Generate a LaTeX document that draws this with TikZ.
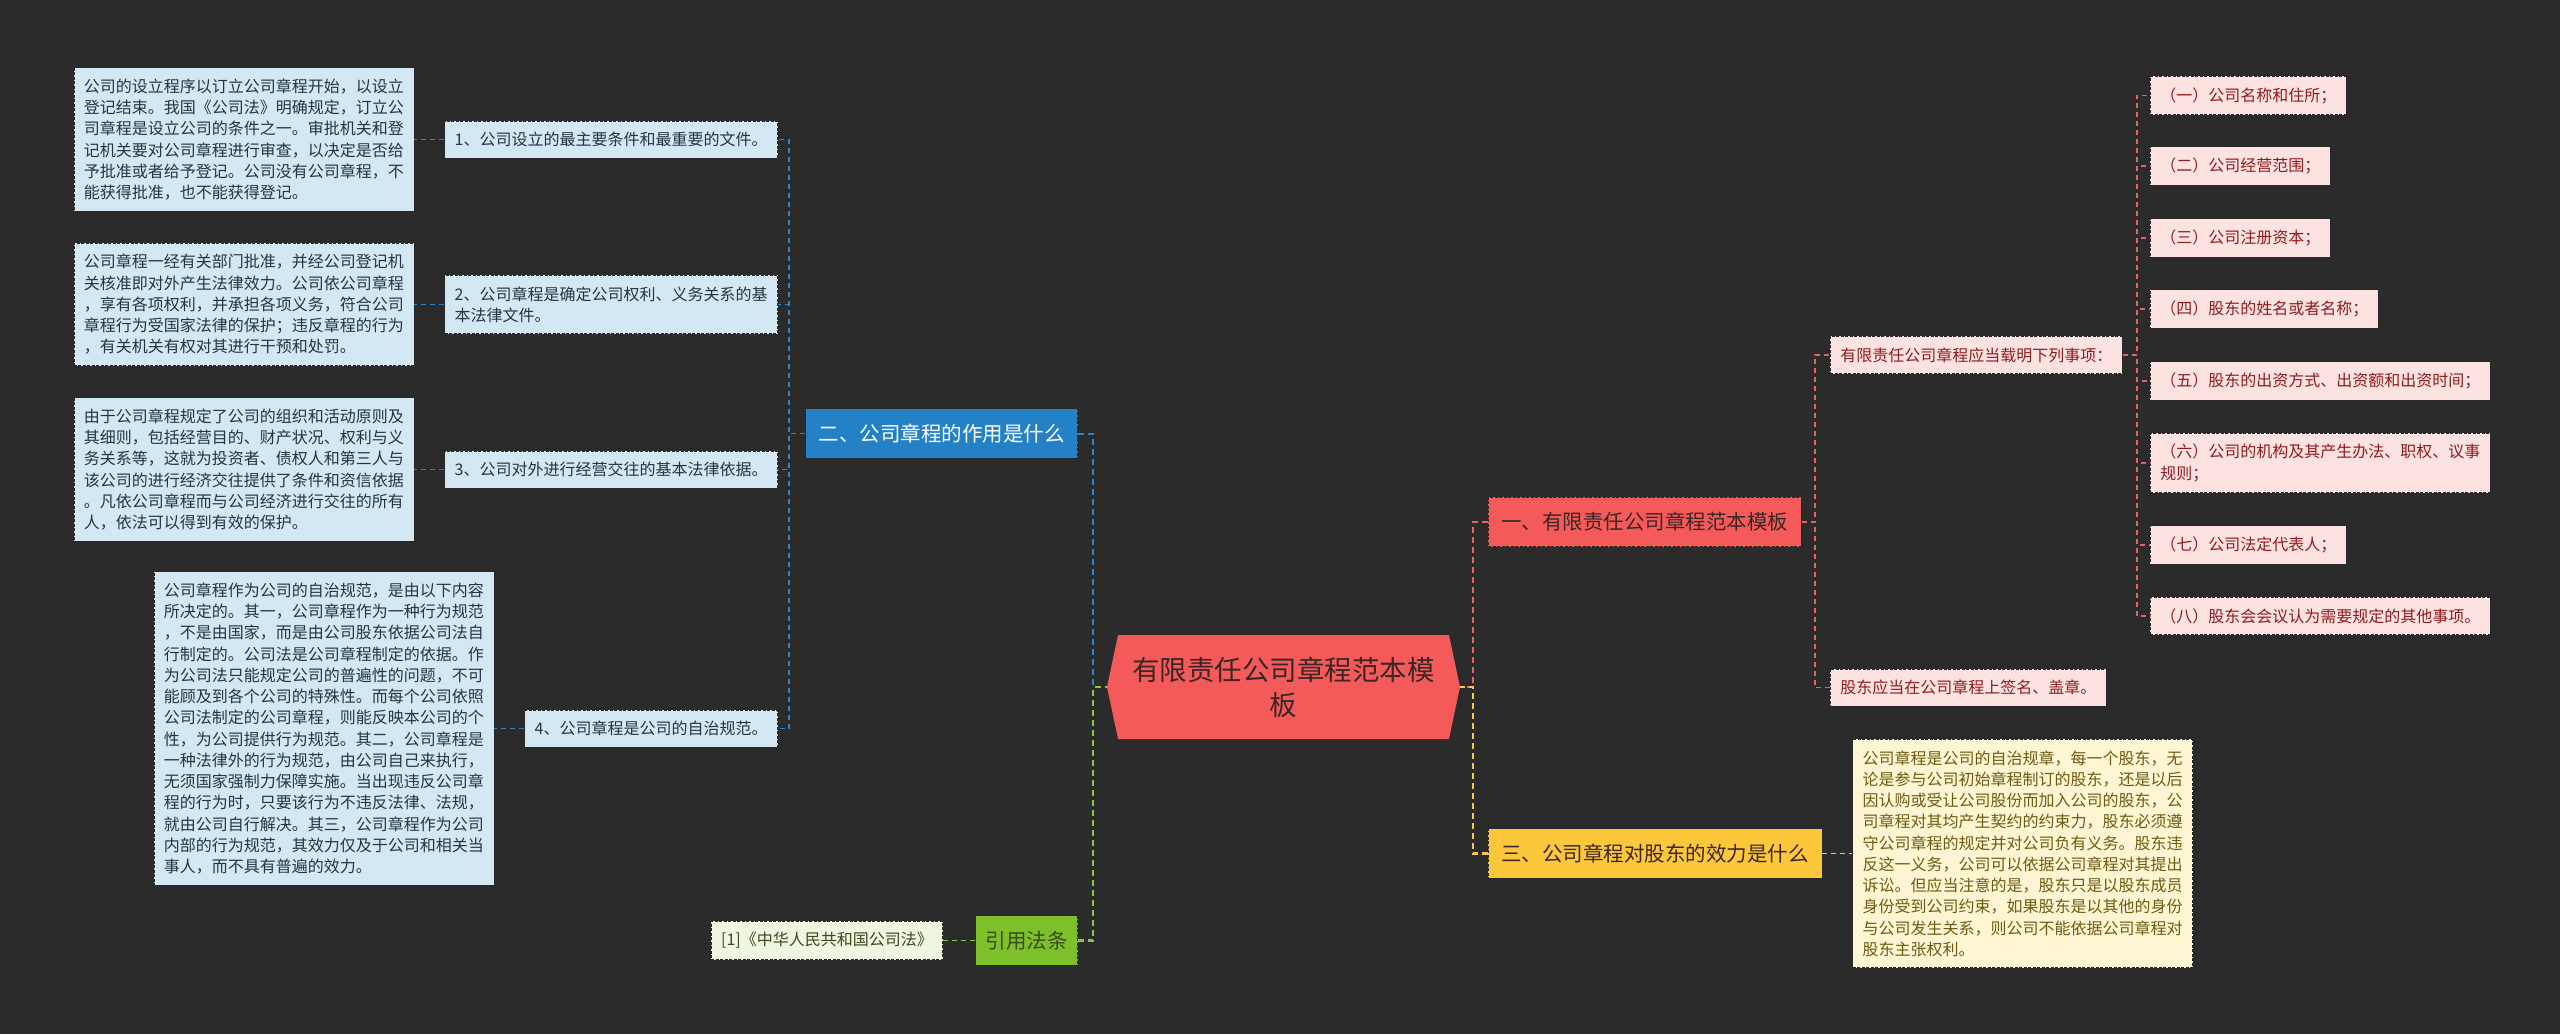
\documentclass[tikz,border=0pt]{standalone}
\usepackage{fontspec}
\setmainfont{Noto Sans CJK SC}
\usepackage{tikz}
\usetikzlibrary{positioning,shapes.symbols}

\definecolor{darkBg}{HTML}{2B2B2B}
\definecolor{boxEdge}{HTML}{262626}
\definecolor{rootRed}{HTML}{F55A5A}
\definecolor{rootText}{HTML}{3A2626}
\definecolor{headBlue}{HTML}{2481C6}
\definecolor{headYellow}{HTML}{FDC73C}
\definecolor{headGreen}{HTML}{7DC02A}
\definecolor{paleBlue}{HTML}{D4E8F4}
\definecolor{palePink}{HTML}{FDE2E2}
\definecolor{paleCream}{HTML}{FEF6D3}
\definecolor{paleGreen}{HTML}{EEF5E0}
\definecolor{blueText}{HTML}{253444}
\definecolor{pinkText}{HTML}{8E1C1C}
\definecolor{creamText}{HTML}{6F5A12}
\definecolor{greenText}{HTML}{3A4A1C}
\definecolor{blueLine}{HTML}{2A86C8}
\definecolor{redLine}{HTML}{E26464}
\definecolor{yellowLine}{HTML}{F7C845}
\definecolor{greenLine}{HTML}{8CC63E}

\begin{document}
\begin{tikzpicture}[x=1pt,y=-1pt,
	boxBase/.style={draw=boxEdge,line width=0.8pt,dash pattern=on 3pt off 1.5pt},
	leafBox/.style={boxBase,inner xsep=10pt,inner ysep=11pt,align=left,
		font=\fontsize{16}{21.25}\selectfont},
	headBox/.style={boxBase,inner xsep=13pt,minimum height=49.5pt,
		font=\fontsize{20.5}{24}\selectfont},
	linkBase/.style={line width=1.5pt,dash pattern=on 5pt off 4pt},
	blueLink/.style={linkBase,draw=blueLine},
	redLink/.style={linkBase,draw=redLine},
	yellowLink/.style={linkBase,draw=yellowLine},
	greenLink/.style={linkBase,draw=greenLine},
	rootLink/.style={line width=2.5pt,dash pattern=on 6pt off 4pt}]

	\useasboundingbox (0,0) rectangle (2560,1034);
	\fill[darkBg] (0,0) rectangle (2560,1034);

	% root
	\node[signal,signal to=east and west,signal pointer angle=156,fill=rootRed,
		minimum width=353pt,minimum height=104pt,inner sep=0pt,align=center,
		text=rootText,font=\fontsize{27.5}{35}\selectfont]
		(root) at (1283.5,687) {有限责任公司章程范本模\\板};
	\coordinate (left_joint) at (1093,687);
	\coordinate (right_joint) at (1473,687);

	% heads
	\node[headBox,fill=headBlue,text=white,anchor=east] (head_two) at (1078,433.5)
		{二、公司章程的作用是什么};
	\node[headBox,fill=headGreen,text=greenText,anchor=east,inner xsep=10pt] (law_head)
		at (1078,940.5) {引用法条};
	\node[headBox,fill=rootRed,text=rootText,anchor=west] (head_one) at (1488,522)
		{一、有限责任公司章程范本模板};
	\node[headBox,fill=headYellow,text=rootText,anchor=west] (head_three) at (1488,853.5)
		{三、公司章程对股东的效力是什么};

	% left side
	\node[leafBox,fill=paleBlue,text=blueText,anchor=east] (use_1) at (778,139.5)
		{1、公司设立的最主要条件和最重要的文件。};
	\node[leafBox,fill=paleBlue,text=blueText,anchor=east] (use_2) at (778,304.5)
		{2、公司章程是确定公司权利、义务关系的基\\本法律文件。};
	\node[leafBox,fill=paleBlue,text=blueText,anchor=east] (use_3) at (778,469.5)
		{3、公司对外进行经营交往的基本法律依据。};
	\node[leafBox,fill=paleBlue,text=blueText,anchor=east] (use_4) at (778,728.5)
		{4、公司章程是公司的自治规范。};

	\node[leafBox,fill=paleBlue,text=blueText,left=30pt of use_1] (use_text_1)
		{公司的设立程序以订立公司章程开始，以设立\\
		登记结束。我国《公司法》明确规定，订立公\\
		司章程是设立公司的条件之一。审批机关和登\\
		记机关要对公司章程进行审查，以决定是否给\\
		予批准或者给予登记。公司没有公司章程，不\\
		能获得批准，也不能获得登记。};
	\node[leafBox,fill=paleBlue,text=blueText,left=30pt of use_2] (use_text_2)
		{公司章程一经有关部门批准，并经公司登记机\\
		关核准即对外产生法律效力。公司依公司章程\\
		，享有各项权利，并承担各项义务，符合公司\\
		章程行为受国家法律的保护；违反章程的行为\\
		，有关机关有权对其进行干预和处罚。};
	\node[leafBox,fill=paleBlue,text=blueText,left=30pt of use_3] (use_text_3)
		{由于公司章程规定了公司的组织和活动原则及\\
		其细则，包括经营目的、财产状况、权利与义\\
		务关系等，这就为投资者、债权人和第三人与\\
		该公司的进行经济交往提供了条件和资信依据\\
		。凡依公司章程而与公司经济进行交往的所有\\
		人，依法可以得到有效的保护。};
	\node[leafBox,fill=paleBlue,text=blueText,left=30pt of use_4] (use_text_4)
		{公司章程作为公司的自治规范，是由以下内容\\
		所决定的。其一，公司章程作为一种行为规范\\
		，不是由国家，而是由公司股东依据公司法自\\
		行制定的。公司法是公司章程制定的依据。作\\
		为公司法只能规定公司的普遍性的问题，不可\\
		能顾及到各个公司的特殊性。而每个公司依照\\
		公司法制定的公司章程，则能反映本公司的个\\
		性，为公司提供行为规范。其二，公司章程是\\
		一种法律外的行为规范，由公司自己来执行，\\
		无须国家强制力保障实施。当出现违反公司章\\
		程的行为时，只要该行为不违反法律、法规，\\
		就由公司自行解决。其三，公司章程作为公司\\
		内部的行为规范，其效力仅及于公司和相关当\\
		事人，而不具有普遍的效力。};

	\node[leafBox,fill=paleGreen,text=greenText,left=32pt of law_head] (law_ref)
		{[1]《中华人民共和国公司法》};

	% right side
	\node[leafBox,fill=palePink,text=pinkText,anchor=west] (term_list) at (1830,355)
		{有限责任公司章程应当载明下列事项：};
	\node[leafBox,fill=palePink,text=pinkText,anchor=west] (term_sign) at (1830,687.5)
		{股东应当在公司章程上签名、盖章。};

	\node[leafBox,fill=palePink,text=pinkText,anchor=west] (term_1) at (2150,95.5)
		{（一）公司名称和住所；};
	\node[leafBox,fill=palePink,text=pinkText,anchor=west] (term_2) at (2150,166)
		{（二）公司经营范围；};
	\node[leafBox,fill=palePink,text=pinkText,anchor=west] (term_3) at (2150,238)
		{（三）公司注册资本；};
	\node[leafBox,fill=palePink,text=pinkText,anchor=west] (term_4) at (2150,309)
		{（四）股东的姓名或者名称；};
	\node[leafBox,fill=palePink,text=pinkText,anchor=west] (term_5) at (2150,381)
		{（五）股东的出资方式、出资额和出资时间；};
	\node[leafBox,fill=palePink,text=pinkText,anchor=west] (term_6) at (2150,463)
		{（六）公司的机构及其产生办法、职权、议事\\规则；};
	\node[leafBox,fill=palePink,text=pinkText,anchor=west] (term_7) at (2150,545)
		{（七）公司法定代表人；};
	\node[leafBox,fill=palePink,text=pinkText,anchor=west] (term_8) at (2150,616)
		{（八）股东会会议认为需要规定的其他事项。};

	\node[leafBox,fill=paleCream,text=creamText,right=30pt of head_three] (effect_text)
		{公司章程是公司的自治规章，每一个股东，无\\
		论是参与公司初始章程制订的股东，还是以后\\
		因认购或受让公司股份而加入公司的股东，公\\
		司章程对其均产生契约的约束力，股东必须遵\\
		守公司章程的规定并对公司负有义务。股东违\\
		反这一义务，公司可以依据公司章程对其提出\\
		诉讼。但应当注意的是，股东只是以股东成员\\
		身份受到公司约束，如果股东是以其他的身份\\
		与公司发生关系，则公司不能依据公司章程对\\
		股东主张权利。};

	% root links
	\draw[rootLink,draw=blueLine,line width=2pt] (head_two.east) -| (left_joint) -- (root.west);
	\draw[rootLink,draw=greenLine] (law_head.east) -| (left_joint) -- (root.west);
	\draw[rootLink,draw=redLine,line width=2pt] (head_one.west) -| (right_joint) -- (root.east);
	\draw[rootLink,draw=yellowLine] (head_three.west) -| (right_joint) -- (root.east);

	% head links
	\draw[blueLink] (head_two.west) -- ++(-16,0) |- (use_1.east);
	\draw[blueLink] (head_two.west) -- ++(-16,0) |- (use_2.east);
	\draw[blueLink] (head_two.west) -- ++(-16,0) |- (use_3.east);
	\draw[blueLink] (head_two.west) -- ++(-16,0) |- (use_4.east);
	\draw[blueLink] (use_1.west) -- (use_text_1.east);
	\draw[blueLink] (use_2.west) -- (use_text_2.east);
	\draw[blueLink] (use_3.west) -- (use_text_3.east);
	\draw[blueLink] (use_4.west) -- (use_text_4.east);
	\draw[greenLink] (law_head.west) -- (law_ref.east);

	\draw[redLink] (head_one.east) -- ++(13,0) |- (term_list.west);
	\draw[redLink] (head_one.east) -- ++(13,0) |- (term_sign.west);
	\draw[redLink] (term_list.east) -- ++(14,0) |- (term_1.west);
	\draw[redLink] (term_list.east) -- ++(14,0) |- (term_2.west);
	\draw[redLink] (term_list.east) -- ++(14,0) |- (term_3.west);
	\draw[redLink] (term_list.east) -- ++(14,0) |- (term_4.west);
	\draw[redLink] (term_list.east) -- ++(14,0) |- (term_5.west);
	\draw[redLink] (term_list.east) -- ++(14,0) |- (term_6.west);
	\draw[redLink] (term_list.east) -- ++(14,0) |- (term_7.west);
	\draw[redLink] (term_list.east) -- ++(14,0) |- (term_8.west);
	\draw[yellowLink] (head_three.east) -- (effect_text.west);
\end{tikzpicture}
\end{document}
